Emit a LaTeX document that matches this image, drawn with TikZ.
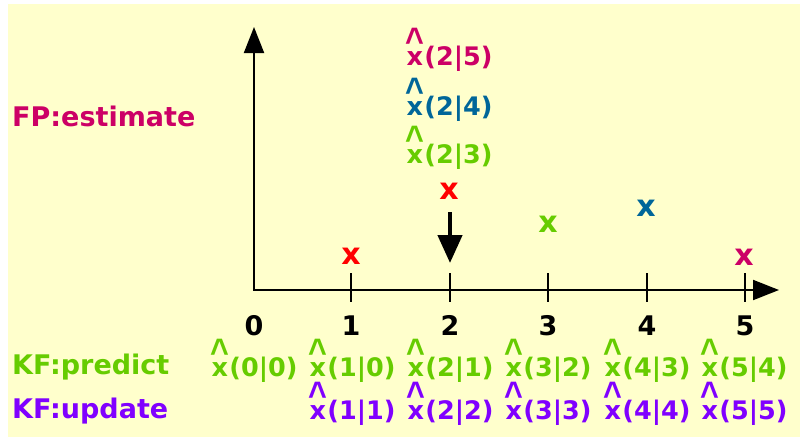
\documentclass[tikz,border=0pt]{standalone}
\usepackage{fontspec}
\setmainfont{DejaVu Sans}
\newfontfamily\hatfont{Liberation Sans}
\usetikzlibrary{arrows.meta}
\definecolor{bgyellow}{HTML}{FFFFCC}
\definecolor{fpcrimson}{HTML}{CC0066}
\definecolor{kfgreen}{HTML}{66CC00}
\definecolor{kfblue}{HTML}{006699}
\definecolor{kfpurple}{HTML}{8000FF}
\newcommand\hx[1]{\ooalign{\hfil x\hfil\cr\hfil\raisebox{12pt}{\scalebox{1.4}[1.6]{\hatfont\fontsize{23}{23}\selectfont\textasciicircum}}\hfil\cr}(#1)}

\begin{document}
\begin{tikzpicture}[
  x=1pt, y=-1pt,
  axis/.style={
    line width=2pt,
    line join=miter,
    {Triangle[length=26pt,width=20pt]}-{Triangle[length=26pt,width=20pt]}
  },
  tick/.style={line width=2pt},
  pointer/.style={-{Triangle[length=28pt,width=24pt]}, line width=4.5pt},
  label/.style={anchor=base west, inner sep=0pt, font=\fontsize{27}{32}\selectfont\bfseries},
  num/.style={anchor=base, inner sep=0pt, font=\fontsize{27}{32}\selectfont\bfseries},
  est/.style={anchor=base, inner sep=0pt, font=\fontsize{25.5}{30}\selectfont\bfseries},
  meas/.style={inner sep=0pt, font=\fontsize{30}{34}\selectfont\bfseries}
]
\useasboundingbox (0,0) rectangle (800,437);
\fill[bgyellow] (8,4) rectangle (800,437);

% axes
\coordinate (origin) at (254,290);
\coordinate (yend) at (254,27);
\coordinate (xend) at (779,290);
\draw[axis] (yend) -- (origin) -- (xend);

% ticks
\coordinate (t1) at (351,290);
\coordinate (t2) at (450,290);
\coordinate (t3) at (548,290);
\coordinate (t4) at (647,290);
\coordinate (t5) at (745,290);
\draw[tick] ([yshift=17pt]t1) -- ([yshift=-12pt]t1);
\draw[tick] ([yshift=17pt]t2) -- ([yshift=-12pt]t2);
\draw[tick] ([yshift=17pt]t3) -- ([yshift=-12pt]t3);
\draw[tick] ([yshift=17pt]t4) -- ([yshift=-12pt]t4);
\draw[tick] ([yshift=17pt]t5) -- ([yshift=-12pt]t5);

\node[num] (n0) at (254,335) {0};
\node[num] (n1) at (351,335) {1};
\node[num] (n2) at (450,335) {2};
\node[num] (n3) at (548,335) {3};
\node[num] (n4) at (647,335) {4};
\node[num] (n5) at (745,335) {5};

% measurements
\node[meas, red] (m1) at (351,256) {x};
\node[meas, red] (m2) at (449,191) {x};
\node[meas, kfgreen] (m3) at (548,224) {x};
\node[meas, kfblue] (m4) at (646,208) {x};
\node[meas, fpcrimson] (m5) at (744,257) {x};

\coordinate (ptop) at (450,212);
\coordinate (ptip) at (450,263);
\draw[pointer] (ptop) -- (ptip);

% fixed point estimates
\node[label, fpcrimson] (fp) at (12,126) {FP:estimate};
\node[est, fpcrimson] (e25) at (449,65) {\hx{2|5}};
\node[est, kfblue] (e24) at (449,115) {\hx{2|4}};
\node[est, kfgreen] (e23) at (449,163) {\hx{2|3}};

% Kalman filter rows
\node[label, kfgreen] (kfp) at (12,374) {KF:predict};
\node[est, kfgreen] (p0) at (254,376) {\hx{0|0}};
\node[est, kfgreen] (p1) at (352,376) {\hx{1|0}};
\node[est, kfgreen] (p2) at (450,376) {\hx{2|1}};
\node[est, kfgreen] (p3) at (548,376) {\hx{3|2}};
\node[est, kfgreen] (p4) at (647,376) {\hx{4|3}};
\node[est, kfgreen] (p5) at (744,376) {\hx{5|4}};

\node[label, kfpurple] (kfu) at (12,418) {KF:update};
\node[est, kfpurple] (u1) at (352,419) {\hx{1|1}};
\node[est, kfpurple] (u2) at (450,419) {\hx{2|2}};
\node[est, kfpurple] (u3) at (548,419) {\hx{3|3}};
\node[est, kfpurple] (u4) at (647,419) {\hx{4|4}};
\node[est, kfpurple] (u5) at (744,419) {\hx{5|5}};
\end{tikzpicture}
\end{document}
